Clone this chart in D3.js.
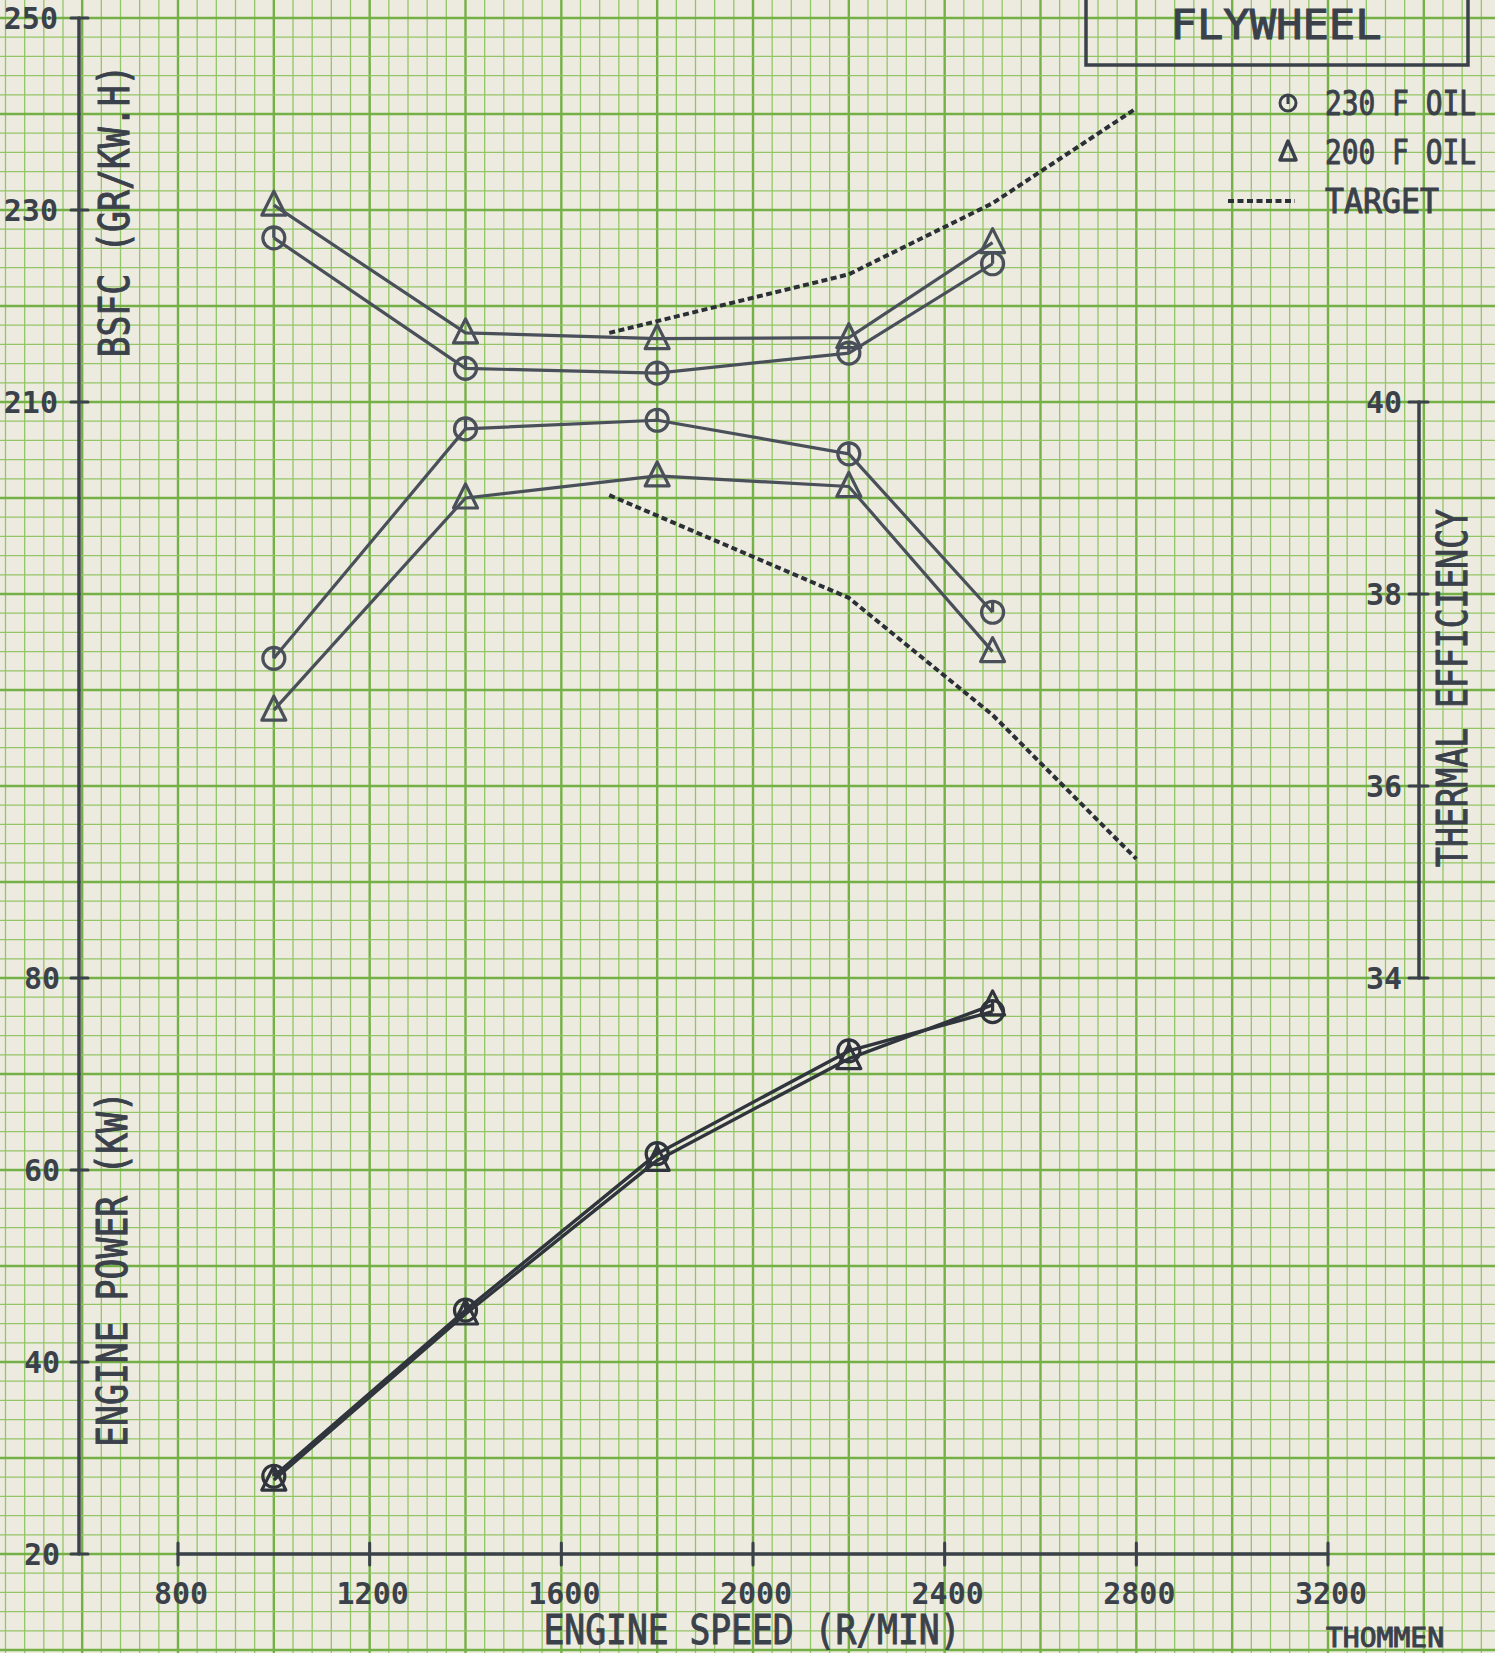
<!DOCTYPE html>
<html>
<head>
<meta charset="utf-8">
<script src="https://cdn.jsdelivr.net/npm/d3@7/dist/d3.min.js"></script>
<style>
  html, body { margin: 0; padding: 0; background: #edebdf; }
  svg { display: block; }
  text { font-family: "DejaVu Sans Mono", monospace; fill: #3b414a; }
</style>
</head>
<body>
<svg id="chart" width="1495" height="1653"></svg>
<script>
// engine speed (r/min) of the measured points
const speeds = [1000, 1400, 1800, 2200, 2500]

// BSFC (gr/kW.h)
const bsfc230 = [227.1, 213.5, 213.0, 215.1, 224.4]
const bsfc200 = [230.5, 217.2, 216.6, 216.7, 226.6]

// thermal efficiency (%)
const te230 = [37.33, 39.72, 39.81, 39.46, 37.81]
const te200 = [36.79, 39.0, 39.23, 39.12, 37.4]

// engine power (kW)
const power230 = [28.1, 45.4, 61.7, 72.4, 76.5]
const power200 = [27.7, 45.0, 61.0, 71.6, 77.2]

// target curves
const targetSpeeds = [1700, 2200, 2500, 2800]
const targetBsfc = [217.2, 223.3, 230.7, 240.6]
const targetTe = [39.03, 37.96, 36.74, 35.24]

// tick labels
const speedTicks = [800, 1200, 1600, 2000, 2400, 2800, 3200]
const bsfcTicks = [210, 230, 250]
const powerTicks = [20, 40, 60, 80]
const teTicks = [34, 36, 38, 40]

const W = 1495, H = 1653
const ink = '#3b414a'
const pen = '#4a505a'

const svg = d3.select('#chart')

// scales (all three vertical scales share the same paper grid)
const x = d3.scaleLinear().domain([800, 3200]).range([178, 1328])
const yBsfc = d3.scaleLinear().domain([150, 250]).range([978, 18])
const yPower = d3.scaleLinear().domain([20, 80]).range([1554, 978])
const yTe = d3.scaleLinear().domain([34, 40]).range([978, 402])

// ---- graph paper ----
const paper = svg.append('g')
paper.append('rect')
    .attr('width', W).attr('height', H)
    .attr('fill', '#edebdf')

const vLines = d3.range(440, 3560, 40)
const hLines = d3.range(10, 184, 2)

paper.selectAll('.vgrid')
    .data(vLines)
    .join('line')
    .attr('class', 'vgrid')
    .attr('x1', d => x(d)).attr('x2', d => x(d))
    .attr('y1', 0).attr('y2', H)
    .attr('stroke', d => (d - 800) % 200 == 0 ? '#74b046' : '#93c567')
    .attr('stroke-width', d => (d - 800) % 200 == 0 ? 2.4 : 1.3)

paper.selectAll('.hgrid')
    .data(hLines)
    .join('line')
    .attr('class', 'hgrid')
    .attr('x1', 0).attr('x2', W)
    .attr('y1', d => yPower(d)).attr('y2', d => yPower(d))
    .attr('stroke', d => (d - 20) % 10 == 0 ? '#74b046' : '#93c567')
    .attr('stroke-width', d => (d - 20) % 10 == 0 ? 2.4 : 1.3)

// ---- axes ----
const axes = svg.append('g')
    .attr('stroke', ink)
    .attr('fill', 'none')
    .attr('stroke-linecap', 'round')

// left axis, one line from BSFC 250 down to power 20
axes.append('line')
    .attr('x1', 79).attr('x2', 79)
    .attr('y1', yBsfc(250)).attr('y2', yPower(20))
    .attr('stroke-width', 3.5)
axes.selectAll('.lt')
    .data(bsfcTicks.map(yBsfc).concat(powerTicks.map(yPower)))
    .join('line')
    .attr('x1', 71).attr('x2', 88)
    .attr('y1', d => d).attr('y2', d => d)
    .attr('stroke-width', 3)

// right axis
axes.append('line')
    .attr('x1', 1419).attr('x2', 1419)
    .attr('y1', yTe(40)).attr('y2', yTe(34))
    .attr('stroke-width', 3.5)
axes.selectAll('.rt')
    .data(teTicks)
    .join('line')
    .attr('x1', 1409).attr('x2', 1428)
    .attr('y1', d => yTe(d)).attr('y2', d => yTe(d))
    .attr('stroke-width', 3)

// bottom axis
axes.append('line')
    .attr('x1', x(800)).attr('x2', x(3200))
    .attr('y1', 1554).attr('y2', 1554)
    .attr('stroke-width', 3.5)
axes.selectAll('.bt')
    .data(speedTicks)
    .join('line')
    .attr('x1', d => x(d)).attr('x2', d => x(d))
    .attr('y1', 1543).attr('y2', 1565)
    .attr('stroke-width', 3)

// tick labels
const labels = svg.append('g')
    .style('font-size', '30px')
    .style('font-weight', 'bold')

labels.selectAll('.bl')
    .data(bsfcTicks)
    .join('text')
    .attr('x', 58).attr('y', d => yBsfc(d) + 11)
    .attr('text-anchor', 'end')
    .text(d => d)

labels.selectAll('.pl')
    .data(powerTicks)
    .join('text')
    .attr('x', 60).attr('y', d => yPower(d) + 11)
    .attr('text-anchor', 'end')
    .text(d => d)

labels.selectAll('.tl')
    .data(teTicks)
    .join('text')
    .attr('x', 1402).attr('y', d => yTe(d) + 11)
    .attr('text-anchor', 'end')
    .text(d => d)

labels.selectAll('.sl')
    .data(speedTicks)
    .join('text')
    .attr('x', d => x(d) + 3).attr('y', 1604)
    .attr('text-anchor', 'middle')
    .text(d => d)

// axis titles
function title(txt, cx, cy, len, size, rot) {
    svg.append('text')
        .attr('transform', 'translate(' + cx + ',' + cy + ') rotate(' + rot + ')')
        .attr('text-anchor', 'middle')
        .attr('dy', '0.36em')
        .attr('textLength', len)
        .attr('lengthAdjust', 'spacingAndGlyphs')
        .style('font-size', size + 'px')
        .style('stroke', ink)
        .style('stroke-width', 1)
        .text(txt)
}
title('BSFC  (GR/KW.H)', 114, 211, 293, 42, -90)
title('ENGINE POWER  (KW)', 112, 1269, 356, 42, -90)
title('THERMAL EFFICIENCY', 1452, 688, 358, 42, -90)
title('ENGINE SPEED  (R/MIN)', 752, 1630, 417, 40, 0)
title('THOMMEN', 1385, 1637, 118, 27, 0)

// ---- data lines ----
const plot = svg.append('g')

function series(xs, ys, scale, color, width, dash) {
    const line = d3.line()
        .x((d, i) => x(xs[i]))
        .y(d => scale(d))
    plot.append('path')
        .datum(ys)
        .attr('d', line)
        .attr('fill', 'none')
        .attr('stroke', color)
        .attr('stroke-width', width)
        .attr('stroke-linejoin', 'round')
        .attr('stroke-dasharray', dash)
}

series(speeds, bsfc230, yBsfc, pen, 3.2)
series(speeds, bsfc200, yBsfc, pen, 3.2)
series(speeds, te230, yTe, pen, 3.2)
series(speeds, te200, yTe, pen, 3.2)
series(speeds, power230, yPower, '#30343c', 3.4)
series(speeds, power200, yPower, '#30343c', 3.4)
series(targetSpeeds, targetBsfc, yBsfc, '#2b2f36', 4, '6 3.5')
series(targetSpeeds, targetTe, yTe, '#2b2f36', 4, '6 3.5')

// markers
function circles(xs, ys, scale, color) {
    const g = plot.append('g').attr('stroke', color).attr('fill', 'none').attr('stroke-width', 3.2)
    ys.forEach((v, i) => {
        const cx = x(xs[i]), cy = scale(v)
        g.append('circle').attr('cx', cx).attr('cy', cy).attr('r', 11)
        g.append('line').attr('x1', cx).attr('x2', cx).attr('y1', cy - 11).attr('y2', cy)
    })
}
function triangles(xs, ys, scale, color) {
    const g = plot.append('g').attr('stroke', color).attr('fill', 'none')
        .attr('stroke-width', 3.2).attr('stroke-linejoin', 'round')
    ys.forEach((v, i) => {
        const cx = x(xs[i]), cy = scale(v)
        g.append('path')
            .attr('d', 'M' + cx + ',' + (cy - 14) + 'L' + (cx + 12) + ',' + (cy + 10) + 'L' + (cx - 12) + ',' + (cy + 10) + 'Z')
    })
}

circles(speeds, bsfc230, yBsfc, pen)
triangles(speeds, bsfc200, yBsfc, pen)
circles(speeds, te230, yTe, pen)
triangles(speeds, te200, yTe, pen)
circles(speeds, power230, yPower, '#30343c')
triangles(speeds, power200, yPower, '#30343c')

// ---- legend ----
const legend = svg.append('g')

legend.append('path')
    .attr('d', 'M1086,-10 L1086,65 L1468,65 L1468,-10')
    .attr('fill', 'none')
    .attr('stroke', ink)
    .attr('stroke-width', 3.5)

legend.append('text')
    .attr('x', 1276).attr('y', 39)
    .attr('text-anchor', 'middle')
    .attr('textLength', 211)
    .attr('lengthAdjust', 'spacingAndGlyphs')
    .style('font-size', '40px')
    .style('stroke', ink)
    .style('stroke-width', 1)
    .text('FLYWHEEL')

const legendItems = ['230 F OIL', '200 F OIL', 'TARGET']
const legendY = [103, 152, 201]
const legendLen = [151, 151, 114]

legend.selectAll('.li')
    .data(legendItems)
    .join('text')
    .attr('transform', (d, i) => 'translate(1325,' + (legendY[i] + 12) + ') scale(1,1.22)')
    .attr('textLength', (d, i) => legendLen[i])
    .attr('lengthAdjust', 'spacingAndGlyphs')
    .style('font-size', '27px')
    .style('stroke', ink)
    .style('stroke-width', 0.8)
    .text(d => d)

legend.append('circle')
    .attr('cx', 1288).attr('cy', legendY[0]).attr('r', 8)
    .attr('fill', 'none').attr('stroke', ink).attr('stroke-width', 3)
legend.append('line')
    .attr('x1', 1288).attr('x2', 1288)
    .attr('y1', legendY[0] - 8).attr('y2', legendY[0] + 1)
    .attr('stroke', ink).attr('stroke-width', 3)
legend.append('path')
    .attr('d', 'M1288,' + (legendY[1] - 11) + 'L1296,' + (legendY[1] + 8) + 'L1280,' + (legendY[1] + 8) + 'Z')
    .attr('fill', 'none').attr('stroke', ink).attr('stroke-width', 3.5).attr('stroke-linejoin', 'round')
legend.append('line')
    .attr('x1', 1228).attr('x2', 1295)
    .attr('y1', legendY[2]).attr('y2', legendY[2])
    .attr('stroke', '#2b2f36').attr('stroke-width', 4)
    .attr('stroke-dasharray', '6 3.5')
</script>
</body>
</html>
